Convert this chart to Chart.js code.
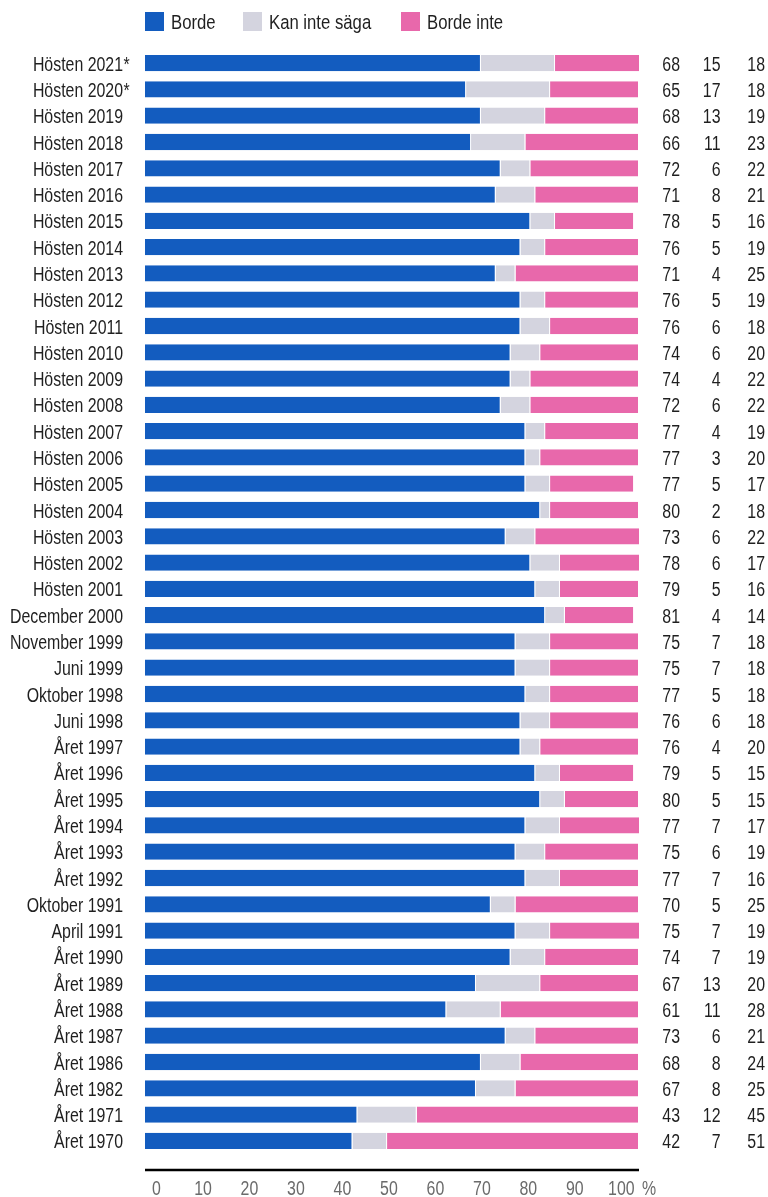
<!DOCTYPE html>
<html><head><meta charset="utf-8">
<script src="https://cdn.jsdelivr.net/npm/chart.js@4/dist/chart.umd.min.js"></script>
<style>html,body{margin:0;padding:0;background:#fff}#wrap{width:768px;height:1197px;position:relative}</style>
</head><body><div id="wrap"><canvas id="c" width="768" height="1197"></canvas></div>
<script>
const categories = ['Hösten 2021*','Hösten 2020*','Hösten 2019','Hösten 2018','Hösten 2017','Hösten 2016','Hösten 2015','Hösten 2014','Hösten 2013','Hösten 2012','Hösten 2011','Hösten 2010','Hösten 2009','Hösten 2008','Hösten 2007','Hösten 2006','Hösten 2005','Hösten 2004','Hösten 2003','Hösten 2002','Hösten 2001','December 2000','November 1999','Juni 1999','Oktober 1998','Juni 1998','Året 1997','Året 1996','Året 1995','Året 1994','Året 1993','Året 1992','Oktober 1991','April 1991','Året 1990','Året 1989','Året 1988','Året 1987','Året 1986','Året 1982','Året 1971','Året 1970'];
const borde       = [68,65,68,66,72,71,78,76,71,76,76,74,74,72,77,77,77,80,73,78,79,81,75,75,77,76,76,79,80,77,75,77,70,75,74,67,61,73,68,67,43,42];
const kanInteSaga = [15,17,13,11, 6, 8, 5, 5, 4, 5, 6, 6, 4, 6, 4, 3, 5, 2, 6, 6, 5, 4, 7, 7, 5, 6, 4, 5, 5, 7, 6, 7, 5, 7, 7,13,11, 6, 8, 8,12, 7];
const bordeInte   = [18,18,19,23,22,21,16,19,25,19,18,20,22,22,19,20,17,18,22,17,16,14,18,18,18,18,20,15,15,17,19,16,25,19,19,20,28,21,24,25,45,51];
const seriesNames = ['Borde','Kan inte säga','Borde inte'];
const tickValues = [0,10,20,30,40,50,60,70,80,90,100];
const seriesColors = ['#135cbf','#d4d4df','#e868ab'];

const FONT = "'Liberation Sans',Arial,sans-serif";
const TXT = '#1f1f1f';
const SX = 0.815;

function txt(ctx, s, x, y, align, size, color) {
  ctx.save();
  ctx.font = size + 'px ' + FONT;
  ctx.fillStyle = color;
  ctx.textAlign = align;
  ctx.textBaseline = 'alphabetic';
  ctx.translate(x, y);
  ctx.scale(SX, 1);
  ctx.fillText(s, 0, 0);
  ctx.restore();
}

const deco = {
  id:'deco',
  afterDraw(chart){
    const ctx = chart.ctx, ca = chart.chartArea;
    const xs = chart.scales.x, ys = chart.scales.y, xt = chart.scales.xt;
    ctx.save();
    // axis line
    ctx.strokeStyle = '#000'; ctx.lineWidth = 2.6;
    ctx.beginPath();
    ctx.moveTo(xs.getPixelForValue(0), ca.bottom + 16);
    ctx.lineTo(xs.getPixelForValue(100), ca.bottom + 16);
    ctx.stroke();
    ctx.restore();
    // tick labels
    const tickY = ca.bottom + 41;
    tickValues.forEach(v => txt(ctx, String(v), xt.getPixelForValue(v), tickY, 'center', 19.5, '#6b6b6b'));
    txt(ctx, '%', xs.getPixelForValue(100) + 3, tickY, 'left', 19.5, '#6b6b6b');
    // row labels and values
    const vals = [borde, kanInteSaga, bordeInte];
    const colRight = [680, 720.5, 765];
    categories.forEach((c, i) => {
      const y = ys.getPixelForValue(i) + 7.5;
      const lx = ca.left - 22;
      if (c.endsWith('*')) {
        txt(ctx, c.slice(0, -1), lx, y, 'right', 19.5, TXT);
        txt(ctx, '*', lx + 0.5, y, 'left', 19.5, TXT);
      } else {
        txt(ctx, c, lx, y, 'right', 19.5, TXT);
      }
      vals.forEach((arr, k) => txt(ctx, String(arr[i]), colRight[k], y, 'right', 19.5, TXT));
    });
    // legend
    const lx0 = [145, 243, 401];
    seriesNames.forEach((n, k) => {
      ctx.fillStyle = seriesColors[k];
      ctx.fillRect(lx0[k], 12, 19, 19);
      txt(ctx, n, lx0[k] + 26, 29, 'left', 20.5, TXT);
    });
  }
};

const mk = (label, data, color) => ({
  label, data, backgroundColor: color,
  borderColor: '#ffffff', borderWidth: {top:0,bottom:0,left:0,right:1}, borderSkipped: false,
  barPercentage: 1, categoryPercentage: 0.62
});

new Chart(document.getElementById('c'), {
  type: 'bar',
  data: {
    labels: categories,
    datasets: [
      mk(seriesNames[0], borde, seriesColors[0]),
      mk(seriesNames[1], kanInteSaga, seriesColors[1]),
      mk(seriesNames[2], bordeInte, seriesColors[2])
    ]
  },
  options: {
    indexAxis: 'y',
    responsive: false,
    animation: false,
    devicePixelRatio: 1,
    layout: { padding: { left: 145, right: 129, top: 50, bottom: 43 } },
    plugins: { legend: { display: false }, tooltip: { enabled: false } },
    scales: {
      x: { stacked: true, min: 0, max: 100, display: false },
      xt: { type: 'linear', position: 'bottom', min: -2.47, max: 103.8, display: false },
      y: { stacked: true, display: false }
    }
  },
  plugins: [deco]
});
</script></body></html>
